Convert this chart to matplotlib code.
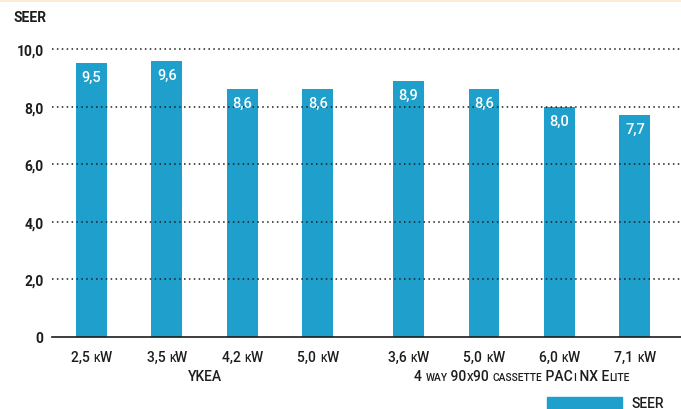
import matplotlib
matplotlib.use("Agg")
import matplotlib.pyplot as plt
from matplotlib.offsetbox import TextArea, HPacker, AnnotationBbox
from matplotlib.patches import Rectangle
from matplotlib.lines import Line2D

# Data
capacities = ["2,5 kW", "3,5 kW", "4,2 kW", "5,0 kW",
              "3,6 kW", "5,0 kW", "6,0 kW", "7,1 kW"]
seer = [9.5, 9.6, 8.6, 8.6, 8.9, 8.6, 8.0, 7.7]
groups = ["YKEA", "4 way 90x90 cassette PACi NX Elite"]
group_sizes = [4, 4]
yticks = [0, 2, 4, 6, 8, 10]
ytick_labels = ["0", "2,0", "4,0", "6,0", "8,0", "10,0"]
series_name = "SEER"

BAR = "#1e9fcc"
TXT = "#1d1d1b"
FONT = "Roboto"
plt.rcParams["font.family"] = [FONT, "DejaVu Sans"]

W, H = 681, 410
fig = plt.figure(figsize=(W / 100, H / 100), dpi=100)
ax = fig.add_axes([52 / W, 1 - 338 / H, 1 - 52 / W, (338 - 50) / H])

# bar positions: second group shifted by an extra gap
gap = 0.2
pos = []
start = 0.0
for gi, n in enumerate(group_sizes):
    pos.extend([start + i for i in range(n)])
    start += n + gap

ax.bar(pos, seer, width=0.41, color=BAR, zorder=1)
for x, v in zip(pos, seer):
    ax.annotate(f"{v:.1f}".replace(".", ","), (x, v), xytext=(0, -5),
                textcoords="offset points", ha="center", va="top",
                color="white", fontsize=10.5, fontweight="medium", zorder=3)

ax.set_xlim(-0.523, 7.81)
ax.set_ylim(0, 10)
ax.set_yticks(yticks)
ax.set_yticklabels(ytick_labels, fontsize=10, fontweight="bold", color=TXT)
ax.tick_params(axis="y", length=0, pad=6)
ax.set_xticks([])
for y in yticks[1:]:
    ax.axhline(y, color="#1d1d1b", lw=1.1, ls=(0, (1, 2.2)), zorder=2, clip_on=False)
for s in ["top", "right", "left"]:
    ax.spines[s].set_visible(False)
ax.spines["bottom"].set_color("#1d1d1b")
ax.spines["bottom"].set_linewidth(1.2)


def small_caps(text, size, weight="medium"):
    """Build a packer rendering lowercase letters as smaller capitals."""
    runs = []
    for ch in text:
        small = ch.islower()
        if runs and runs[-1][1] == small:
            runs[-1][0] += ch
        else:
            runs.append([ch, small])
    boxes = []
    for s, small in runs:
        boxes.append(TextArea(s.upper(), textprops=dict(
            fontsize=size * 0.74 if small else size, fontweight=weight,
            color=TXT, family=[FONT, "DejaVu Sans"])))
    return HPacker(children=boxes, align="baseline", pad=0, sep=0)


def place(box, x, yfrac):
    ab = AnnotationBbox(box, (x, yfrac), xycoords=ax.get_xaxis_transform(),
                        box_alignment=(0.5, 0.5), frameon=False, pad=0,
                        annotation_clip=False)
    ax.add_artist(ab)


for x, lab in zip(pos, capacities):
    place(small_caps(lab, 10), x, -20 / 288)

i0 = 0
for g, n in zip(groups, group_sizes):
    c = (pos[i0] + pos[i0 + n - 1]) / 2
    place(small_caps(g, 10), c, -39 / 288)
    i0 += n

fig.text(14 / W, 1 - 18 / H, series_name, fontsize=10, fontweight="bold",
         color=TXT, va="center", ha="left")

# legend entry at lower right
fig.patches.append(Rectangle((547 / W, -0.01), 75 / W, (411 - 399) / H + 0.01,
                             transform=fig.transFigure, color=BAR))
fig.text(632 / W, 1 - 404 / H, series_name, fontsize=10, fontweight="medium",
         color=TXT, va="center", ha="left")

# thin top rule
fig.lines.append(Line2D([0, 1], [1 - 1 / H, 1 - 1 / H], transform=fig.transFigure,
                        color="#fcebd6", lw=2))

fig.savefig("out.png", dpi=100)
